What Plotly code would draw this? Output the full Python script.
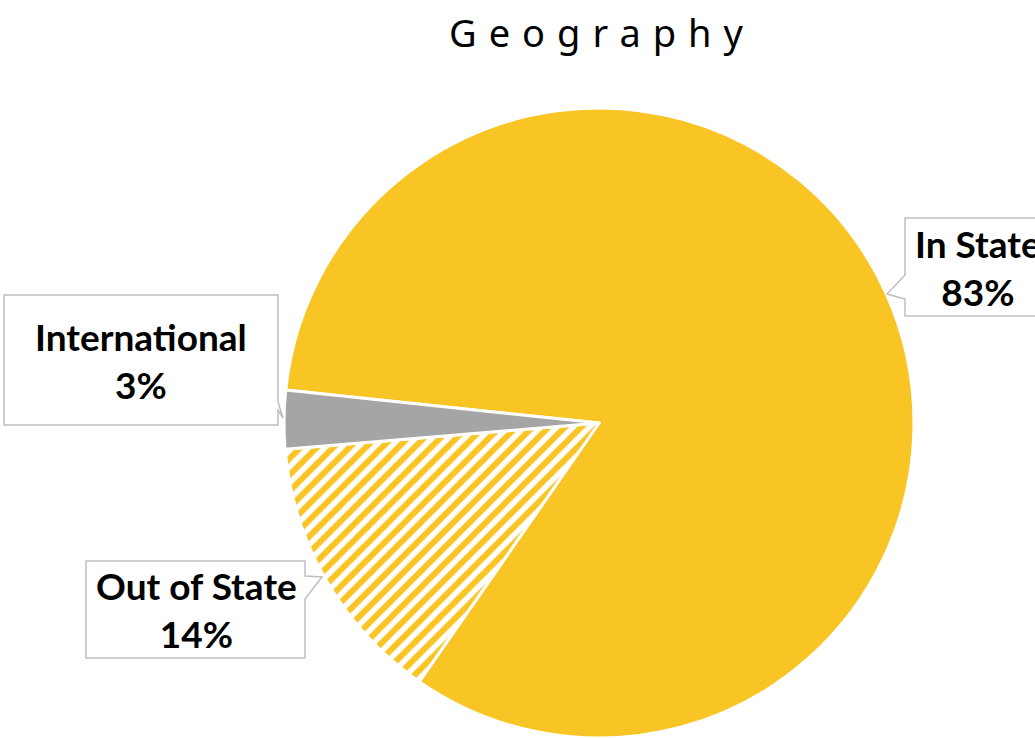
import plotly.graph_objects as go

# dados
categorias = ["In State", "Out of State", "International"]
percentuais = [83, 14, 3]
cores = ["#F8C525", "#F8C525", "#A5A5A5"]
padroes = ["", "/", ""]

W, H = 1035, 738
COR_BORDA = "#BFBFBF"
FONTE_ROTULO = "Lato"


def px(x):
    return x / W


def py(y):
    return 1 - y / H


# pie centrado em (599, 423) com raio 315
cx, raio = 599, 315

fig = go.Figure()
fig.add_trace(go.Pie(
    labels=categorias,
    values=percentuais,
    sort=False,
    direction="clockwise",
    rotation=-84,
    textinfo="none",
    hoverinfo="label+percent",
    marker=dict(
        colors=cores,
        line=dict(color="white", width=3),
        pattern=dict(shape=padroes, fgcolor="#F8C525", size=11.5, solidity=0.52),
    ),
    domain=dict(x=[px(cx - raio), px(cx + raio)], y=[0, py(108)]),
    showlegend=False,
))

# balões (caixa + bico), em pixels
baloes = [
    # In State: bico no lado esquerdo
    [(905, 218), (1060, 218), (1060, 316), (905, 316), (905, 299), (887, 294), (905, 275)],
    # International: bico no lado direito, embaixo
    [(4, 295), (278, 295), (278, 402), (283, 418), (278, 410), (278, 425), (4, 425)],
    # Out of State: bico no lado direito, em cima
    [(86, 561), (305, 561), (305, 576), (322, 577), (305, 599), (305, 658), (86, 658)],
]

for pts in baloes:
    caminho = "M " + " L ".join(f"{px(x):.5f},{py(y):.5f}" for x, y in pts) + " Z"
    fig.add_shape(type="path", path=caminho, xref="paper", yref="paper",
                  fillcolor="white", line=dict(color=COR_BORDA, width=1.5))

rotulos = [
    (978, 267, f"<b>{categorias[0]}<br>{percentuais[0]}%</b>"),
    (141, 360, f"<b>{categorias[2]}<br>{percentuais[2]}%</b>"),
    (196, 609, f"<b>{categorias[1]}<br>{percentuais[1]}%</b>"),
]
for x, y, txt in rotulos:
    fig.add_annotation(x=px(x), y=py(y), xref="paper", yref="paper",
                       text=txt, showarrow=False, xanchor="center", yanchor="middle",
                       font=dict(family=FONTE_ROTULO, size=37, color="black"))

fig.add_annotation(
    x=px(602), y=py(32), xref="paper", yref="paper",
    text='<span style="letter-spacing:12px">Geography</span>',
    showarrow=False, xanchor="center", yanchor="middle",
    font=dict(family="Noto Sans", size=38, color="black"),
)

fig.update_layout(
    width=W, height=H,
    margin=dict(l=0, r=0, t=0, b=0),
    paper_bgcolor="white",
    plot_bgcolor="white",
)
fig.write_html("out.html", config={"displayModeBar": False},
               post_script="document.body.style.margin='0';document.body.style.overflow='hidden';")
